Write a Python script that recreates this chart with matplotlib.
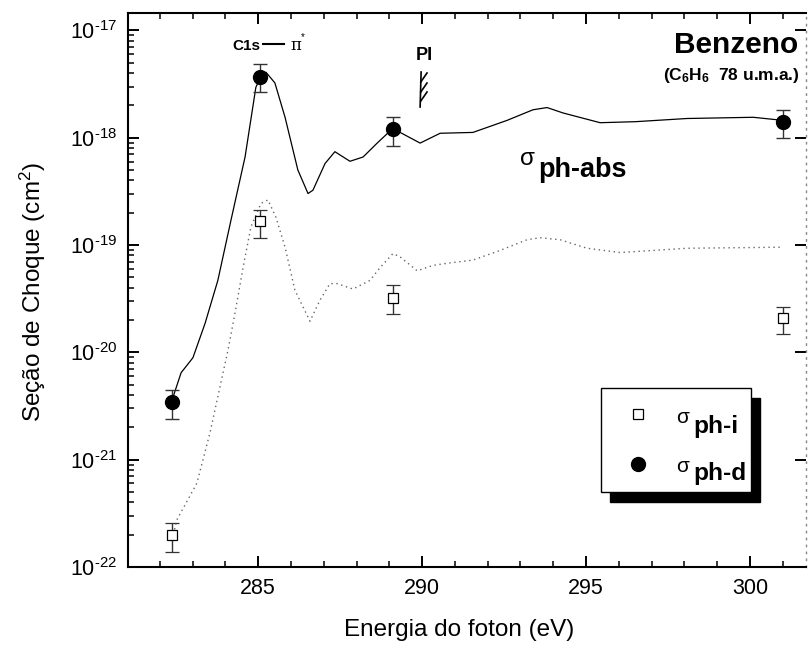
import numpy as np
import matplotlib
matplotlib.use("Agg")
import matplotlib.pyplot as plt
from matplotlib.ticker import FixedLocator, MultipleLocator, FuncFormatter, NullFormatter
from matplotlib.patches import Rectangle
from matplotlib.lines import Line2D
import matplotlib.transforms as mtransforms

plt.rcParams['font.family'] = ['Liberation Sans', 'DejaVu Sans']
plt.rcParams['mathtext.default'] = 'regular'

# photoabsorption cross section (solid) and scaled ionic curve (dotted)
abs_E = [282.40, 282.65, 283.01, 283.38, 283.77, 284.17, 284.60, 284.93, 285.10, 285.24,
         285.51, 285.82, 286.21, 286.52, 286.67, 287.04, 287.34, 287.80, 288.20, 288.63,
         289.08, 289.33, 289.94, 290.55, 291.55, 292.59, 293.38, 293.81, 294.30, 295.43,
         296.50, 298.08, 300.10, 301.01]
abs_sigma = [3.80e-21, 6.46e-21, 8.91e-21, 1.86e-20, 4.68e-20, 1.70e-19, 6.61e-19, 2.95e-18, 3.80e-18, 4.07e-18,
             3.24e-18, 1.55e-18, 5.01e-19, 3.02e-19, 3.24e-19, 5.75e-19, 7.41e-19, 6.03e-19, 6.61e-19, 8.91e-19,
             1.20e-18, 1.12e-18, 8.91e-19, 1.10e-18, 1.12e-18, 1.45e-18, 1.82e-18, 1.91e-18, 1.70e-18, 1.38e-18,
             1.41e-18, 1.51e-18, 1.55e-18, 1.45e-18]

ion_E = [282.45, 282.52, 283.13, 283.53, 284.08, 284.29, 284.54, 284.78, 285.09, 285.30,
         285.54, 285.82, 286.12, 286.58, 286.89, 287.19, 287.41, 287.89, 288.41, 288.72,
         289.11, 289.33, 289.85, 290.33, 290.76, 291.55, 292.38, 293.20, 293.60, 294.21,
         295.03, 296.04, 298.08, 301.01]
ion_sigma = [2.24e-22, 2.75e-22, 6.03e-22, 1.78e-21, 1.05e-20, 2.29e-20, 6.17e-20, 1.48e-19, 2.45e-19, 2.63e-19,
             1.82e-19, 9.55e-20, 3.80e-20, 1.95e-20, 3.09e-20, 4.37e-20, 4.37e-20, 3.89e-20, 4.68e-20, 6.17e-20,
             8.32e-20, 7.76e-20, 5.75e-20, 6.46e-20, 6.76e-20, 7.24e-20, 8.91e-20, 1.12e-19, 1.17e-19, 1.12e-19,
             9.33e-20, 8.51e-20, 9.33e-20, 9.55e-20]

# measured points
pts_E = [282.37, 285.06, 289.10, 301.01]
sig_d = [3.47e-21, 3.68e-18, 1.20e-18, 1.41e-18]
sig_d_lo = [2.40e-21, 2.67e-18, 0.84e-18, 1.00e-18]
sig_d_hi = [4.47e-21, 4.86e-18, 1.57e-18, 1.81e-18]
sig_i = [2.00e-22, 1.67e-19, 3.24e-20, 2.09e-20]
sig_i_lo = [1.38e-22, 1.17e-19, 2.30e-20, 1.47e-20]
sig_i_hi = [2.57e-22, 2.14e-19, 4.27e-20, 2.66e-20]

y_decades = [-22, -21, -20, -19, -18, -17]
E_PI = 289.97

W, H = 810, 646
fig = plt.figure(figsize=(W / 100, H / 100), dpi=100)
ax = fig.add_axes([128 / W, 79 / H, 677.7 / W, 554 / H])


def fx(px):
    return px / W


def fy(py):
    return 1 - py / H


ax.plot(abs_E, abs_sigma, color='black', lw=0.9)
ax.plot(ion_E, ion_sigma, color='#666666', lw=1.0, linestyle=(0, (1, 2.6)))

d = np.array(sig_d)
i = np.array(sig_i)
ax.errorbar(pts_E, sig_d, yerr=[d - np.array(sig_d_lo), np.array(sig_d_hi) - d],
            fmt='o', color='black', ms=10, ecolor='#333333', elinewidth=1, capsize=5, capthick=1, zorder=4)
ax.errorbar(pts_E, sig_i, yerr=[i - np.array(sig_i_lo), np.array(sig_i_hi) - i],
            fmt='s', mfc='white', mec='black', mew=0.9, ms=7, ecolor='#333333', elinewidth=1,
            capsize=5, capthick=1, zorder=4)

ax.set_yscale('log')
ax.set_xlim(281.03, 301.70)
ax.set_ylim(1e-22, 10 ** -16.838)

major_y = [10.0 ** k for k in y_decades]
minor_y = [m * 10.0 ** k for k in y_decades for m in range(2, 10) if m * 10.0 ** k < 10 ** -16.838]
ax.xaxis.set_major_locator(MultipleLocator(5))
ax.xaxis.set_minor_locator(MultipleLocator(1))
ax.yaxis.set_major_locator(FixedLocator(major_y))
ax.yaxis.set_minor_locator(FixedLocator(minor_y))
ax.yaxis.set_minor_formatter(NullFormatter())
ax.yaxis.set_major_formatter(FuncFormatter(lambda v, p: '$10^{\u2010%d}$' % -round(np.log10(v))))

ax.tick_params(which='major', direction='in', length=8, width=1.4, labelsize=15.5,
               top=True, right=True)
ax.tick_params(which='minor', direction='in', length=4.3, width=1.1, top=True, right=False)
ax.tick_params(axis='x', which='major', pad=8)
ax.tick_params(axis='y', which='major', pad=7.5)

for s in ['left', 'bottom', 'top']:
    ax.spines[s].set_linewidth(1.5)
ax.spines['right'].set_linestyle((0, (1, 4)))
ax.spines['right'].set_color('#888888')
ax.spines['right'].set_linewidth(1.0)

fig.text(fx(459), fy(636), 'Energia do foton (eV)', fontsize=17.5, ha='center', va='baseline')
fig.text(fx(33), fy(292), 'Seção de Choque (cm$^2$)', fontsize=17.5, rotation=90,
         ha='center', va='center')

# annotations
fig.text(fx(232), fy(50), 'C1s', fontsize=11, fontweight='bold', va='baseline')
fig.add_artist(Line2D([fx(263), fx(284)], [fy(44), fy(44)], color='black', lw=1.5))
fig.text(fx(290), fy(50), 'π', fontsize=12, va='baseline', family='DejaVu Serif')
fig.text(fx(301), fy(40), '*', fontsize=7, va='baseline')

fig.text(fx(424), fy(60), 'PI', fontsize=13, fontweight='bold', ha='center', va='baseline')
tr = mtransforms.blended_transform_factory(ax.transData, ax.transAxes)
ya = lambda py: (567 - py) / 554
ax.plot([E_PI, E_PI - 0.03], [ya(72), ya(107)], color='black', lw=1.2, transform=tr, clip_on=False)
for yy in [82, 92, 101]:
    ax.plot([E_PI - 0.01, E_PI + 0.18], [ya(yy), ya(yy - 9)], color='black', lw=1.2,
            transform=tr, clip_on=False)

fig.text(fx(798), fy(53), 'Benzeno', fontsize=21.5, fontweight='bold', ha='right', va='baseline')
fig.text(fx(800), fy(80), '(C$_6$H$_6$  78 u.m.a.)', fontsize=12.5, fontweight='bold',
         ha='right', va='baseline')

fig.text(fx(520), fy(165), 'σ', fontsize=17.5, va='baseline')
fig.text(fx(538), fy(177), 'ph-abs', fontsize=19.5, fontweight='bold', va='baseline')

# legend box with solid shadow
fig.add_artist(Rectangle((fx(610), fy(502)), (751 - 601) / W, (492 - 388) / H,
                         transform=fig.transFigure, facecolor='black', edgecolor='black', zorder=5))
fig.add_artist(Rectangle((fx(601), fy(492)), (751 - 601) / W, (492 - 388) / H,
                         transform=fig.transFigure, facecolor='white', edgecolor='black', lw=1.0, zorder=6))
fig.add_artist(Line2D([fx(638)], [fy(414)], marker='s', ms=7, mfc='white', mec='black', mew=0.9,
                      transform=fig.transFigure, zorder=7))
fig.add_artist(Line2D([fx(638)], [fy(464)], marker='o', ms=10, color='black',
                      transform=fig.transFigure, zorder=7))
fig.text(fx(676), fy(423), 'σ', fontsize=15, va='baseline', zorder=8)
fig.text(fx(693), fy(433), 'ph-i', fontsize=17.6, fontweight='bold', va='baseline', zorder=8)
fig.text(fx(676), fy(472), 'σ', fontsize=15, va='baseline', zorder=8)
fig.text(fx(693), fy(480), 'ph-d', fontsize=17.6, fontweight='bold', va='baseline', zorder=8)

fig.savefig('out.png', dpi=100)
